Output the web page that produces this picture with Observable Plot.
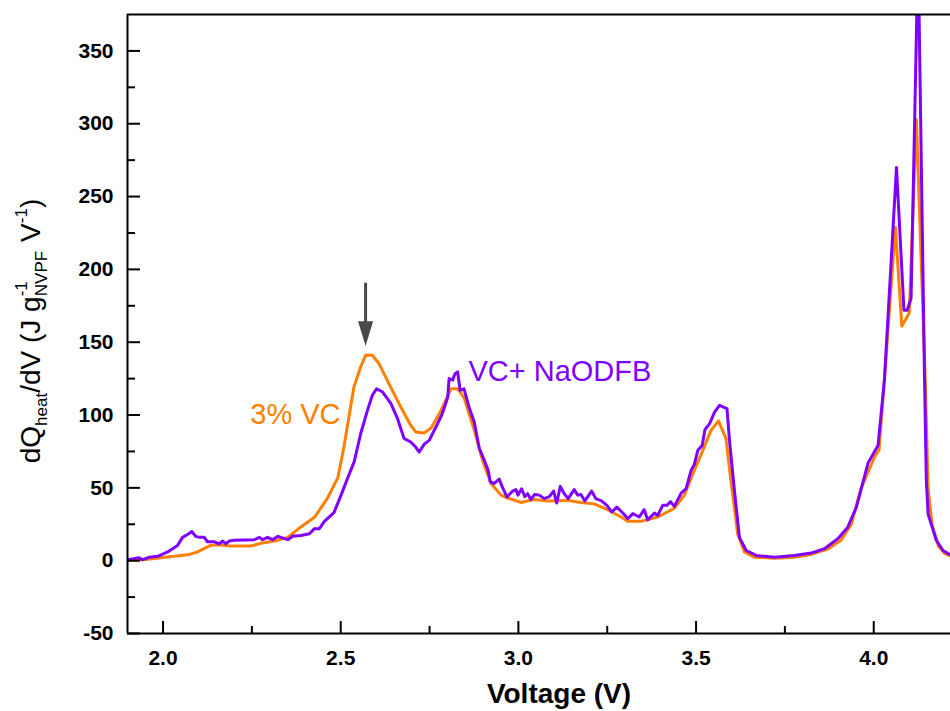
<!DOCTYPE html>
<html>
<head>
<meta charset="utf-8">
<script src="https://cdn.jsdelivr.net/npm/d3@7"></script>
<script src="https://cdn.jsdelivr.net/npm/@observablehq/plot@0.6"></script>
<style>
  html, body { margin: 0; padding: 0; background: #fff; }
  svg { display: block; }
</style>
</head>
<body>
<div id="chart"></div>
<script>
// ---- Data ----
const seriesNames = ["3% VC", "VC+ NaODFB"];
const seriesColors = ["#ff8000", "#8000ff"];

// 3% VC (orange)
const vcVoltage = [1.900,1.956,2.013,2.069,2.097,2.134,2.154,2.190,2.246,2.275,2.314,2.351,2.387,2.427,2.463,2.492,2.509,2.520,2.537,2.556,2.570,2.589,2.607,2.641,2.669,2.697,2.711,2.735,2.754,2.782,2.810,2.829,2.847,2.876,2.899,2.923,2.951,2.970,3.007,3.044,3.082,3.138,3.176,3.213,3.251,3.289,3.308,3.345,3.392,3.439,3.467,3.495,3.523,3.542,3.563,3.584,3.598,3.617,3.636,3.664,3.721,3.777,3.824,3.871,3.908,3.937,3.965,4.002,4.015,4.030,4.061,4.079,4.100,4.120,4.145,4.153,4.164,4.182,4.199,4.218];
const vcHeat = [0,1,2.5,4,6,10.5,11,10,10,12,13.5,16,23,30,43,57,78,94,119,133,141,141,135.6,119,105.5,93,88.4,87.7,91,103,118,118,112,89.5,69,53,45,43,40,42,41,41.4,40,39,35,30,27,27,30,36,45,62,78,89.5,96,84,55,18.5,6,2.4,1.7,2.4,4.3,8,14,25,50,71,76,124,229,161,170,303,124,50,25,10,5,3];

// VC + NaODFB (purple)
const naVoltage = [1.900,1.933,1.942,1.961,1.985,2.013,2.041,2.055,2.069,2.081,
  2.092,2.102,2.116,2.125,2.144,2.158,2.168,2.177,2.186,2.200,
  2.257,2.271,2.280,2.294,2.308,2.323,2.351,2.365,2.388,2.412,
  2.426,2.440,2.454,2.481,2.501,2.520,2.538,2.556,2.575,2.589,
  2.601,2.617,2.641,2.660,2.678,2.697,2.711,2.721,2.735,2.749,
  2.768,2.786,2.801,2.805,2.815,2.822,2.829,2.836,2.847,2.861,
  2.876,2.890,2.904,2.915,2.921,2.932,2.946,2.955,2.968,2.984,
  2.993,2.999,3.009,3.018,3.026,3.035,3.046,3.059,3.073,3.087,
  3.099,3.108,3.118,3.129,3.140,3.157,3.167,3.176,3.187,3.206,
  3.218,3.234,3.249,3.263,3.277,3.294,3.308,3.322,3.340,3.354,
  3.364,3.383,3.392,3.406,3.418,3.428,3.439,3.458,3.472,3.486,
  3.495,3.505,3.517,3.525,3.538,3.552,3.566,3.587,3.594,3.608,
  3.622,3.641,3.669,3.721,3.777,3.824,3.861,3.899,3.927,3.951,
  3.984,4.012,4.030,4.064,4.085,4.094,4.105,4.122,4.127,4.143,
  4.148,4.153,4.176,4.195,4.218];
const naHeat = [0.6,2,0.6,2.4,3,6,10.5,16,18,20,
  16.7,16,16,13,13,11.6,13.5,11.6,13.5,14,
  14.4,16,14.4,16,14.4,16.7,14.4,16.7,17.3,18.5,
  22,22,27,33,45,57,68,87,103,113.6,
  118,116,108,97.5,84,81.5,78,74.6,80,82.6,
  91.8,101,112,125,124,128.5,129.6,117,118,105.5,
  95,77,69,62,54,53,56,50.5,43.7,47.8,
  48.8,45,49.4,44,46,42,45.5,45,42.6,44,
  47.8,39.6,51,46,42.6,48.8,45,45.5,41,47.8,
  42.6,41,38,33.4,36.8,32.7,28.8,32.3,30,35,
  28,32.7,31,38,38,40.5,37.3,46.4,49.4,62,
  66,75.8,79,90,94,102,106.7,104.4,82.6,48,
  16,7,3.6,2.4,3.6,5.2,8.2,15,23,36.8,
  67,79,124,270,172,172,180,385,385,124,
  55,32,14,7,3.6];

// Axis ticks
const xDomain = [1.9, 4.216];
const yDomain = [-50, 375];
const xTicks = [2.0, 2.5, 3.0, 3.5, 4.0];
const xMinorTicks = [2.25, 2.75, 3.25, 3.75];
const yTicks = [-50, 0, 50, 100, 150, 200, 250, 300, 350];
const yMinorTicks = [-25, 25, 75, 125, 175, 225, 275, 325];

// Annotations (data units)
const labelText = ["3% VC", "VC+ NaODFB"];
const labelVoltage = [2.2455, 2.8595];
const labelHeat = [100, 130];
const arrowVoltage = [2.570];
const arrowTipHeat = [151];

// ---- Build tables ----
const rows = [
  ...vcVoltage.map((v, i) => ({series: seriesNames[0], v, q: vcHeat[i]})),
  ...naVoltage.map((v, i) => ({series: seriesNames[1], v, q: naHeat[i]}))
];
const labels = labelText.map((t, i) => ({text: t, v: labelVoltage[i], q: labelHeat[i], series: seriesNames[i]}));
const arrows = arrowVoltage.map((v, i) => ({v, q: arrowTipHeat[i]}));

const fontFamily = "Arial, 'Liberation Sans', Helvetica, sans-serif";

const arrowShape = {
  draw(context, l) {
    const head = 18, half = 5.5;
    context.moveTo(0, 0);
    context.lineTo(0, -l + head - 2);
    context.moveTo(-half, -l + head);
    context.lineTo(0, -l);
    context.lineTo(half, -l + head);
    context.closePath();
  }
};

const axisStyle = {stroke: "#000", strokeWidth: 2, fill: "none", label: null};

const chart = Plot.plot({
  width: 950,
  height: 711,
  marginLeft: 127,
  marginRight: 0,
  marginTop: 14,
  marginBottom: 78,
  style: {fontFamily, background: "#fff", color: "#000", overflow: "visible"},
  x: {domain: xDomain},
  y: {domain: yDomain},
  color: {domain: seriesNames, range: seriesColors, legend: false},
  marks: [
    Plot.line(rows, {x: "v", y: "q", z: "series", stroke: "series", strokeWidth: 3, strokeLinejoin: "round", clip: true}),
    // frame: left, bottom, top (right side cut off)
    Plot.ruleX([xDomain[0]], {stroke: "#000", strokeWidth: 2}),
    Plot.ruleY([yDomain[0], yDomain[1]], {stroke: "#000", strokeWidth: 2}),
    // inward ticks
    Plot.axisX({ticks: xTicks, tickSize: -12, ...axisStyle}),
    Plot.axisX({ticks: xMinorTicks, tickSize: -7, ...axisStyle}),
    Plot.axisY({ticks: yTicks, tickSize: -13, ...axisStyle}),
    Plot.axisY({ticks: yMinorTicks, tickSize: -8, ...axisStyle}),
    // tick labels
    Plot.axisX({ticks: xTicks, tickSize: 0, tickPadding: 17, tickFormat: d3.format(".1f"),
      fontSize: 21, fontWeight: "bold", fill: "#000", label: null}),
    Plot.axisY({ticks: yTicks, tickSize: 0, tickPadding: 14, tickFormat: d => String(d),
      fontSize: 21, fontWeight: "bold", fill: "#000", label: null}),
    // x axis title
    Plot.text(["Voltage (V)"], {text: d => d, frameAnchor: "bottom", dy: 61, dx: 20,
      fontSize: 28, fontWeight: "bold", fill: "#000", lineAnchor: "middle"}),
    // series labels
    Plot.text(labels, {x: "v", y: "q", text: "text", fill: "series", fontSize: 29,
      textAnchor: "start", lineAnchor: "middle"}),
    // arrow
    Plot.vector(arrows, {x: "v", y: "q", length: 58, rotate: 180, anchor: "end",
      shape: arrowShape, stroke: "#4a4a4a", fill: "#4a4a4a", strokeWidth: 3,
      strokeLinecap: "butt", strokeLinejoin: "miter"})
  ]
});

// y axis title with sub/superscripts
const svg = d3.select(chart);
const yt = svg.append("text")
  .attr("transform", "translate(40,331) rotate(-90)")
  .attr("text-anchor", "middle")
  .attr("font-size", 28)
  .attr("fill", "#000");
const parts = [
  {t: "dQ"},
  {t: "heat", s: 17, dy: 7},
  {t: "/dV (J g", dy: -7},
  {t: "-1", s: 17, dy: -13},
  {t: "NVPF", s: 17, dy: 20, dx: -15},
  {t: "V", dy: -7, dx: 9},
  {t: "-1", s: 17, dy: -13},
  {t: ")", dy: 13}
];
for (const p of parts) {
  const ts = yt.append("tspan").text(p.t);
  if (p.s) ts.attr("font-size", p.s);
  if (p.dy) ts.attr("dy", p.dy);
  if (p.dx) ts.attr("dx", p.dx);
}

document.getElementById("chart").appendChild(chart);
</script>
</body>
</html>
